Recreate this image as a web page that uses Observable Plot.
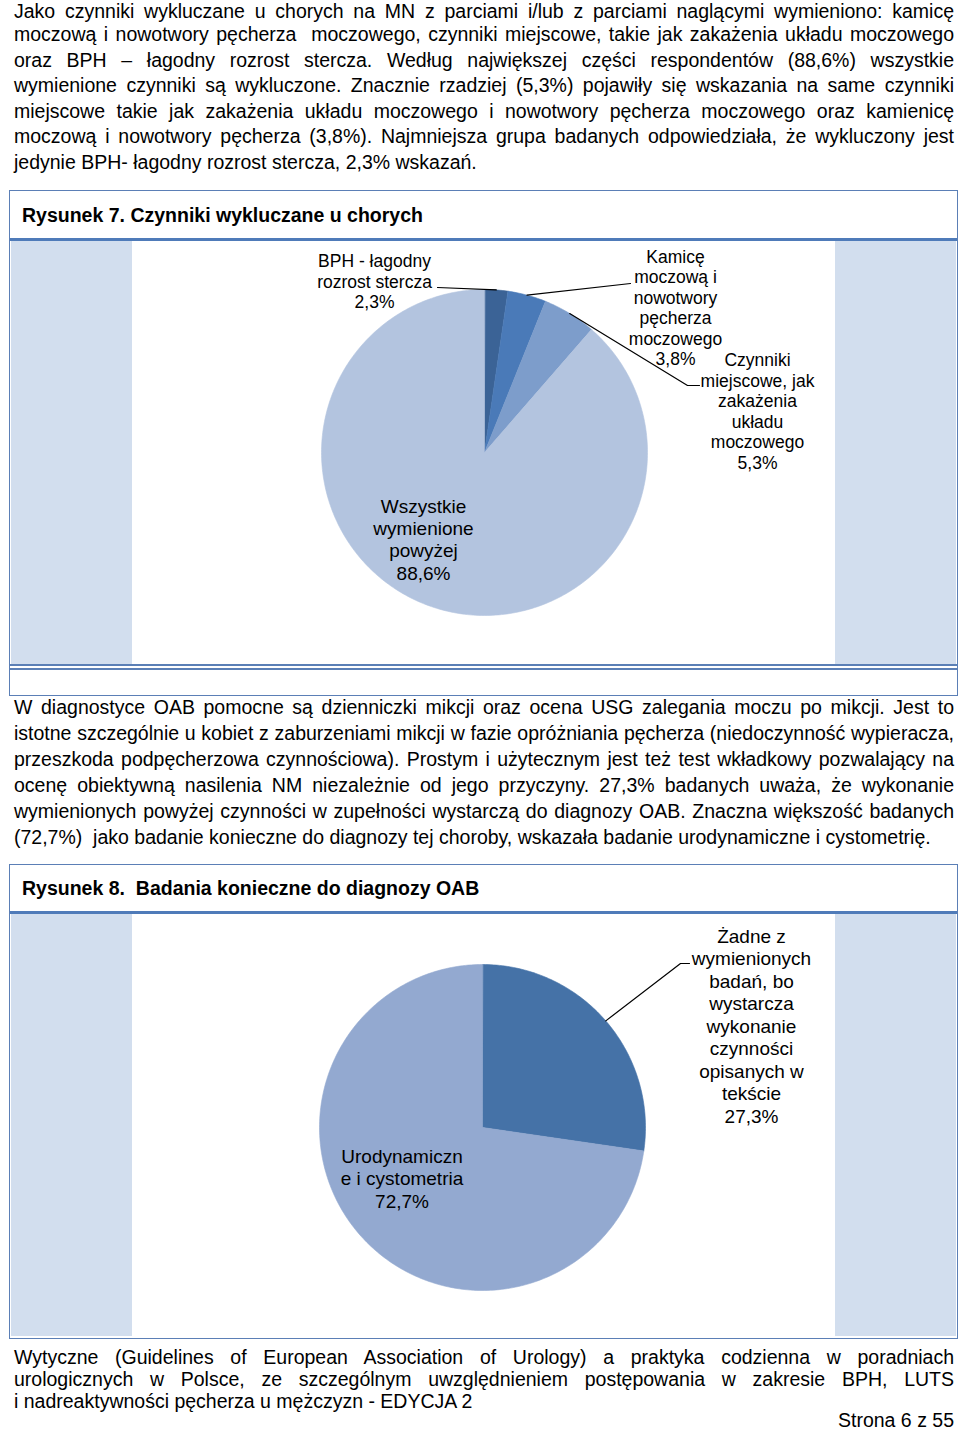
<!DOCTYPE html>
<html><head><meta charset="utf-8">
<script src="https://cdn.jsdelivr.net/npm/d3@7"></script>
<script src="https://cdn.jsdelivr.net/npm/@observablehq/plot@0.6"></script>
<style>
body{margin:0;background:#fff;}
#page{position:relative;width:960px;height:1431px;overflow:hidden;font-family:"Liberation Sans",Arial,sans-serif;color:#000;background:#fff;}
.para{position:absolute;left:14px;width:940px;font-size:19.5px;}
.para div{white-space:nowrap;text-align:justify;text-align-last:justify;}
.para div.last{text-align-last:left;text-align:left;}
.abs{position:absolute;}
.border{position:absolute;border:1.5px solid #5b7fb6;box-sizing:border-box;}
.title{position:absolute;left:22px;font-weight:bold;font-size:19.5px;line-height:20px;white-space:pre;}
.band{position:absolute;background:#d2deee;}
.thick{position:absolute;background:#4f7bb9;}
.thin{position:absolute;background:#5b7fb6;}
</style></head>
<body><div id="page"></div>
<script>
// ---------- data ----------
const para1Lines = [
  "Jako czynniki wykluczane u chorych na MN z parciami i/lub z parciami naglącymi wymieniono: kamicę",
  "moczową i nowotwory pęcherza \u00a0moczowego, czynniki miejscowe, takie jak zakażenia układu moczowego",
  "oraz BPH – łagodny rozrost stercza. Według największej części respondentów (88,6%) wszystkie",
  "wymienione czynniki są wykluczone. Znacznie rzadziej (5,3%) pojawiły się wskazania na same czynniki",
  "miejscowe takie jak zakażenia układu moczowego i nowotwory pęcherza moczowego oraz kamienicę",
  "moczową i nowotwory pęcherza (3,8%). Najmniejsza grupa badanych odpowiedziała, że wykluczony jest",
  "jedynie BPH- łagodny rozrost stercza, 2,3% wskazań."
];
const para2Lines = [
  "W diagnostyce OAB pomocne są dzienniczki mikcji oraz ocena USG zalegania moczu po mikcji. Jest to",
  "istotne szczególnie u kobiet z zaburzeniami mikcji w fazie opróżniania pęcherza (niedoczynność wypieracza,",
  "przeszkoda podpęcherzowa czynnościowa). Prostym i użytecznym jest też test wkładkowy pozwalający na",
  "ocenę obiektywną nasilenia NM niezależnie od jego przyczyny. 27,3% badanych uważa, że wykonanie",
  "wymienionych powyżej czynności w zupełności wystarczą do diagnozy OAB. Znaczna większość badanych",
  "(72,7%) \u00a0jako badanie konieczne do diagnozy tej choroby, wskazała badanie urodynamiczne i cystometrię."
];
const footerLines = [
  "Wytyczne (Guidelines of European Association of Urology) a praktyka codzienna w poradniach",
  "urologicznych w Polsce, ze szczególnym uwzględnieniem postępowania w zakresie BPH, LUTS",
  "i nadreaktywności pęcherza u mężczyzn - EDYCJA 2"
];
const pageLabel = "Strona 6 z 55";

const fig7Title = "Rysunek 7. Czynniki wykluczane u chorych";
const fig7Categories = [
  "BPH - łagodny\nrozrost stercza",
  "Kamicę\nmoczową i\nnowotwory\npęcherza\nmoczowego",
  "Czynniki\nmiejscowe, jak\nzakażenia\nukładu\nmoczowego",
  "Wszystkie\nwymienione\npowyżej"
];
const fig7Values = [2.3, 3.8, 5.3, 88.6];

const fig8Title = "Rysunek 8. \u00a0Badania konieczne do diagnozy OAB";
const fig8Categories = [
  "Żadne z\nwymienionych\nbadań, bo\nwystarcza\nwykonanie\nczynności\nopisanych w\ntekście",
  "Urodynamiczn\ne i cystometria"
];
const fig8Values = [27.3, 72.7];

// ---------- page text ----------
const page = document.getElementById("page");
function addPara(lines, top, lh, firstLh, secondMargin){
  const p = document.createElement("div");
  p.className = "para";
  p.style.top = top + "px";
  p.style.lineHeight = lh + "px";
  lines.forEach((t,i)=>{
    const d = document.createElement("div");
    d.textContent = t;
    if (i === lines.length-1) d.className = "last";
    if (i === 0 && firstLh) d.style.lineHeight = firstLh + "px";
    if (i === 1 && firstLh) d.style.marginTop = secondMargin + "px";
    p.appendChild(d);
  });
  page.appendChild(p);
}
function el(cls, css, text){
  const d = document.createElement("div");
  d.className = cls;
  Object.assign(d.style, css);
  if (text) d.textContent = text;
  page.appendChild(d);
  return d;
}
addPara(para1Lines, 0, 25.5, 22.5, -0.5);
addPara(para2Lines, 694, 26);
addPara(footerLines, 1346, 22);
el("abs", {right:"6px", top:"1411.5px", fontSize:"19.5px", lineHeight:"16px"}, pageLabel);

// ---------- figure frames ----------
function frame(top, bottom, titleTop, lineTop, chartBottom, doubleLine, title){
  el("border", {left:"9px", top:top+"px", width:"949px", height:(bottom-top)+"px"});
  el("title", {top:titleTop+"px"}, title);
  el("thick", {left:"10px", top:lineTop+"px", width:"947px", height:"3px"});
  el("band", {left:"11px", top:(lineTop+3)+"px", width:"121px", height:(chartBottom-lineTop-3)+"px"});
  el("band", {left:"835px", top:(lineTop+3)+"px", width:"121px", height:(chartBottom-lineTop-3)+"px"});
  if (doubleLine){
    el("thin", {left:"10px", top:chartBottom+"px", width:"947px", height:"1.5px"});
    el("thin", {left:"10px", top:(chartBottom+4)+"px", width:"947px", height:"1.5px"});
  }
}
frame(190, 696, 205, 238, 664, true, fig7Title);
frame(864, 1339, 878, 911, 1336, false, fig8Title);

// ---------- pies ----------
const fmt = v => v.toFixed(1).replace(".", ",") + "%";

function drawPie(o){
  const names = o.categories;
  const arcs = d3.pie().sort(null).value(d => d)(o.values);
  const pts = [];
  arcs.forEach((a, i) => {
    const n = Math.max(2, Math.ceil((a.endAngle - a.startAngle) / (Math.PI / 180)));
    pts.push({name: names[i], x: 0, y: 0});
    for (let k = 0; k <= n; k++) {
      const t = a.startAngle + (a.endAngle - a.startAngle) * k / n;
      pts.push({name: names[i], x: Math.sin(t), y: Math.cos(t)});
    }
  });
  const r = o.r;
  // label layout given as pixel offsets from the pie centre, converted to pie units
  const labels = arcs.map((a, i) => {
    const L = o.layout[i];
    return {name: names[i], text: names[i] + "\n" + fmt(o.values[i]),
            x: L.dx / r, y: -L.dy / r, size: L.size};
  });
  const leaders = [];
  arcs.forEach((a, i) => {
    const L = o.layout[i];
    if (!L.leader) return;
    const mid = (a.startAngle + a.endAngle) / 2;
    leaders.push({name: names[i], x: Math.sin(mid), y: Math.cos(mid)});
    L.leader.forEach(p => leaders.push({name: names[i], x: p[0] / r, y: -p[1] / r}));
  });
  const marks = [
    Plot.line(pts, {x: "x", y: "y", z: "name", fill: "name", stroke: "name", strokeWidth: 0.6, curve: "linear-closed"}),
    Plot.line(leaders, {x: "x", y: "y", z: "name", stroke: "black", strokeWidth: 1.2}),
  ];
  const sizes = [...new Set(labels.map(d => d.size))];
  sizes.forEach(s => {
    marks.push(Plot.text(labels.filter(d => d.size === s), {
      x: "x", y: "y", text: "text", fontSize: s, lineHeight: o.lineHeights[s],
      lineAnchor: "middle", textAnchor: "middle", fill: "black",
      fontFamily: "Liberation Sans, Arial, sans-serif"
    }));
  });
  const svg = Plot.plot({
    width: o.width, height: o.height, margin: 0,
    style: {background: "transparent", overflow: "visible"},
    x: {domain: [-1, 1], range: [o.cx - r, o.cx + r], axis: null},
    y: {domain: [-1, 1], range: [o.cy + r, o.cy - r], axis: null},
    color: {domain: names, range: o.colors},
    marks
  });
  const wrap = el("abs", {left: o.left + "px", top: o.top + "px", width: o.width + "px", height: o.height + "px"});
  wrap.appendChild(svg);
}

drawPie({
  categories: fig7Categories, values: fig7Values,
  colors: ["#3b6396", "#4a7ab8", "#7d9dcb", "#b3c4df"],
  left: 132, top: 241, width: 703, height: 423, cx: 352, cy: 211, r: 163,
  lineHeights: {17.5: 1.17, 19: 1.175},
  layout: [
    {dx: -110, dy: -171.5, size: 17.5, leader: [[-47, -165]]},
    {dx: 191, dy: -145, size: 17.5, leader: [[146, -169]]},
    {dx: 273, dy: -41.5, size: 17.5, leader: [[203, -67], [215, -67]]},
    {dx: -61, dy: 86.5, size: 19}
  ]
});

drawPie({
  categories: fig8Categories, values: fig8Values,
  colors: ["#4572a7", "#93a9d0"],
  left: 131, top: 914, width: 704, height: 422, cx: 351, cy: 213, r: 163,
  lineHeights: {19: 1.184},
  layout: [
    {dx: 269, dy: -102, size: 19, leader: [[198, -164], [207, -164]]},
    {dx: -80.5, dy: 50.5, size: 19}
  ]
});
</script>
</body></html>
